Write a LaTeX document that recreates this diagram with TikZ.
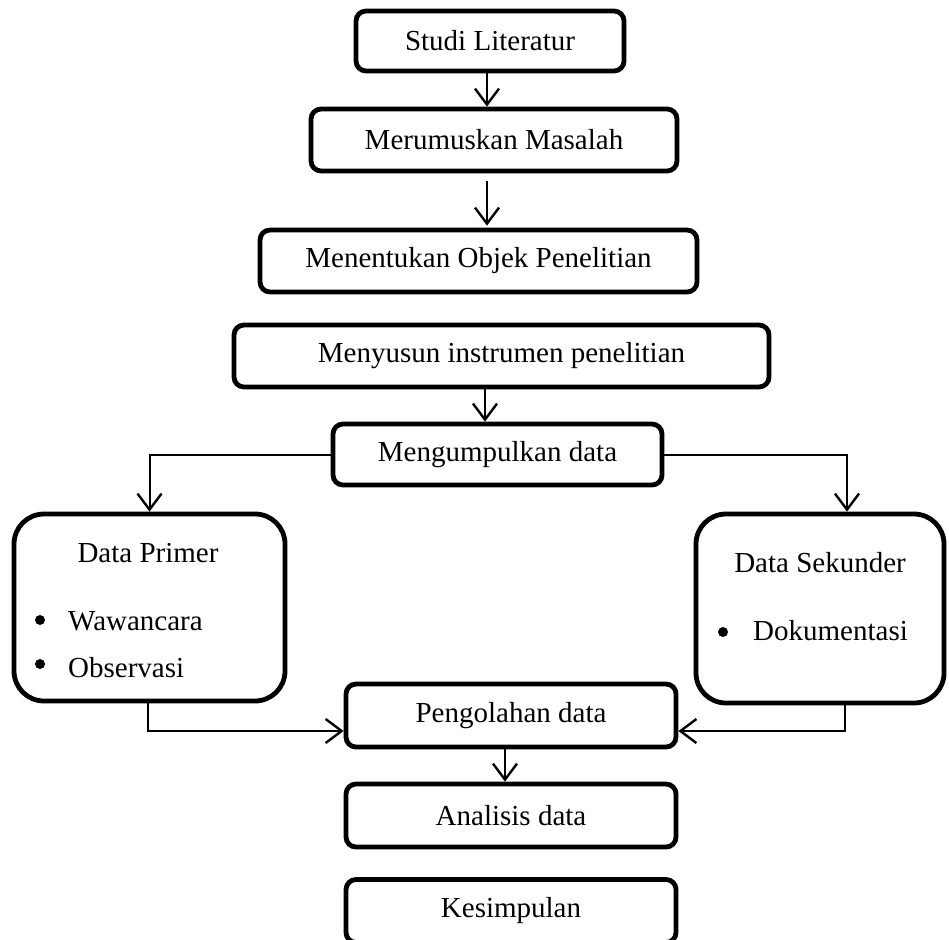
\documentclass[tikz,border=0pt]{standalone}
\usepackage{fontspec}
\setmainfont{Liberation Serif}
\usetikzlibrary{arrows.meta,calc}
\begin{document}
\begin{tikzpicture}[x=1pt,y=-1pt,
  every node/.style={font=\fontsize{29}{34}\selectfont},
  box/.style={draw, line width=4.8pt, rounded corners=10pt, inner sep=0pt},
  bigbox/.style={draw, line width=4.8pt, rounded corners=30pt, inner sep=0pt},
  plain/.style={inner sep=0pt},
  bul/.style={circle, fill, inner sep=0pt, minimum size=10pt},
  arr/.style={line width=2pt, -{Straight Barb[length=16pt,width=24pt,line width=2.4pt]}},
  conn/.style={line width=2pt}]
\useasboundingbox (0,0) rectangle (949,939);
\fill[white] (0,0) rectangle (949,939);

\node[box, minimum width=268pt, minimum height=60pt] (st) at (490,41) {Studi Literatur};
\node[box, minimum width=366pt, minimum height=62pt] (mm) at (494,140) {Merumuskan Masalah};
\node[box, minimum width=437pt, minimum height=62pt] (mo) at (478.5,261) {Menentukan Objek Penelitian};
\node[box, minimum width=535pt, minimum height=62pt] (mi) at (501.5,356) {Menyusun instrumen penelitian};
\node[box, minimum width=329pt, minimum height=61pt] (md) at (497.5,454.5) {Mengumpulkan data};
\node[bigbox, minimum width=271pt, minimum height=187pt] (dp) at (149.5,607.5) {};
\node[bigbox, minimum width=248pt, minimum height=189pt] (ds) at (820,608.5) {};
\node[box, minimum width=330pt, minimum height=63pt] (pg) at (511,715.5) {Pengolahan data};
\node[box, minimum width=330pt, minimum height=63pt] (an) at (511,815.5) {Analisis data};
\node[box, minimum width=330pt, minimum height=63pt] (ks) at (511,911) {Kesimpulan};

% contents of Data Primer
\node[plain, anchor=base] (dpt) at (148,562) {Data Primer};
\node[bul] (b1) at (40,620) {};
\node[plain, anchor=base west] (w1) at (68,630) {Wawancara};
\node[bul] (b2) at (40,664) {};
\node[plain, anchor=base west] (w2) at (68,677) {Observasi};

% contents of Data Sekunder
\node[plain, anchor=base] (dst) at (820,572) {Data Sekunder};
\node[bul] (b3) at (723,632) {};
\node[plain, anchor=base west] (w3) at (753,640) {Dokumentasi};

% connectors
\coordinate (cx) at (487,0);
\coordinate (cy) at (485,0);
\draw[arr] (st.south -| cx) -- (mm.north -| cx);
\draw[arr] ($(mm.south -| cx)+(0,8)$) -- ($(mo.north -| cx)+(0,-2)$);
\draw[arr] (mi.south -| cy) -- (md.north -| cy);
\draw[arr] (md.west) -| (dp.north);
\draw[arr] (md.east) -| ($(ds.north)+(27,0)$);
\draw[arr] ($(dp.south)+(-1.5,0)$) |- ($(pg.west)+(0,15.5)$);
\draw[arr] ($(ds.south)+(25,0)$) |- ($(pg.east)+(0,15.5)$);
\draw[arr] ($(pg.south)+(-6,0)$) -- ($(an.north)+(-6,0)$);
\end{tikzpicture}
\end{document}
